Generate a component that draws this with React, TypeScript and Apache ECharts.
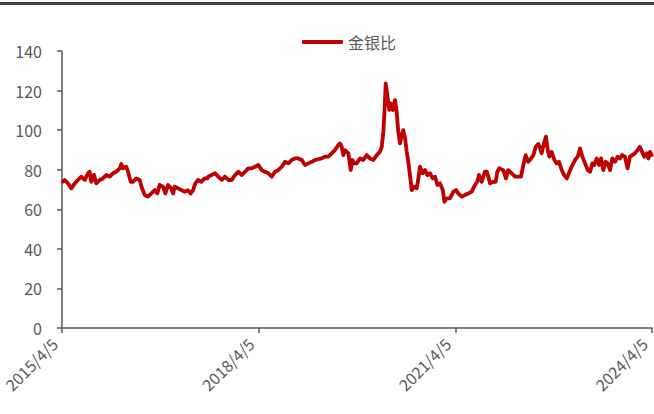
import React, { useEffect, useRef } from "react";
import * as echarts from "echarts";

const seriesName = "金银比";
const yTicks = [0, 20, 40, 60, 80, 100, 120, 140];
const xTickLabels = ["2015/4/5", "2018/4/5", "2021/4/5", "2024/4/5"];

const dates2015_2017 = [
  "2015-04-11", "2015-04-20", "2015-05-08", "2015-05-27", "2015-06-15", "2015-07-03", "2015-07-22", "2015-08-10",
  "2015-08-28", "2015-09-06", "2015-09-15", "2015-09-30", "2015-10-13", "2015-11-01", "2015-11-19", "2015-12-08",
  "2015-12-27", "2016-01-14", "2016-02-02", "2016-02-21", "2016-02-29", "2016-03-10", "2016-03-28", "2016-04-07",
  "2016-04-22", "2016-05-05", "2016-05-23", "2016-06-11", "2016-06-24", "2016-07-09", "2016-07-27", "2016-08-15",
  "2016-09-03", "2016-09-17", "2016-09-30", "2016-10-19", "2016-11-01", "2016-11-16", "2016-12-04", "2016-12-14",
  "2016-12-23", "2017-01-10", "2017-01-29", "2017-02-17", "2017-03-07", "2017-03-22", "2017-04-04", "2017-04-17",
  "2017-05-02", "2017-05-20", "2017-06-08", "2017-06-23",
];
const values2015_2017 = [
  74, 74.8, 73.1, 70.6, 73.1, 74.8, 76.5, 74.8,
  78.2, 79, 73.9, 77.4, 73.1, 74.8, 75.6, 77.3,
  76.5, 78.2, 79, 80.7, 82.9, 80.7, 81.5, 79,
  73.9, 73.9, 75.6, 74.8, 70.6, 67.2, 66.4, 68,
  69.7, 68, 72.3, 71.4, 68, 72.3, 70.6, 68,
  71.4, 70.6, 69.7, 68.9, 69.7, 68, 69.7, 73.1,
  74.8, 73.9, 75.6, 75.6,
];

const dates2017_2019 = [
  "2017-06-28", "2017-07-17", "2017-08-05", "2017-08-23", "2017-09-11", "2017-09-29", "2017-10-18", "2017-11-06",
  "2017-11-24", "2017-12-13", "2017-12-31", "2018-01-19", "2018-02-06", "2018-02-25", "2018-03-16", "2018-04-03",
  "2018-04-22", "2018-05-10", "2018-05-29", "2018-06-17", "2018-07-05", "2018-07-23", "2018-08-11", "2018-08-30",
  "2018-09-17", "2018-10-06", "2018-10-24", "2018-11-12", "2018-12-01", "2018-12-19", "2019-01-07", "2019-01-26",
  "2019-02-13", "2019-03-03", "2019-03-22", "2019-04-10", "2019-04-28", "2019-05-17", "2019-06-04", "2019-06-23",
  "2019-07-02", "2019-07-12", "2019-07-21", "2019-07-30", "2019-08-18", "2019-08-31", "2019-09-09", "2019-09-20",
];
const values2017_2019 = [
  76.5, 77.3, 78.2, 76.5, 74.8, 76.5, 74.8, 74.8,
  77.3, 79, 77.3, 79, 80.7, 80.7, 81.5, 82.4,
  79.8, 79, 78.2, 76.5, 79, 79.8, 81.5, 84,
  83.2, 84.9, 85.7, 85.7, 84.9, 82.4, 83.2, 84,
  84.9, 85.3, 85.7, 86.6, 86.6, 88.3, 89.9, 92.5,
  93.3, 91.6, 87.4, 89.9, 88.3, 79.8, 84.9, 83.2,
];

const dates2019_2021 = [
  "2019-10-03", "2019-10-22", "2019-11-09", "2019-11-28", "2019-12-16", "2020-01-04", "2020-01-23", "2020-02-10",
  "2020-02-20", "2020-02-29", "2020-03-07", "2020-03-13", "2020-03-22", "2020-04-02", "2020-04-10", "2020-04-21",
  "2020-05-04", "2020-05-13", "2020-05-22", "2020-06-01", "2020-06-10", "2020-06-19", "2020-06-29", "2020-07-08",
  "2020-07-17", "2020-07-26", "2020-08-05", "2020-08-18", "2020-09-02", "2020-09-11", "2020-09-20", "2020-10-05",
  "2020-10-18", "2020-10-31", "2020-11-15", "2020-11-30", "2020-12-13", "2020-12-26", "2021-01-10", "2021-01-25",
  "2021-02-03", "2021-02-16", "2021-03-06", "2021-03-25", "2021-04-09", "2021-04-21", "2021-05-11", "2021-05-29",
  "2021-06-16", "2021-07-05", "2021-07-24", "2021-08-05", "2021-08-15", "2021-08-30", "2021-09-17", "2021-09-27",
  "2021-10-06", "2021-10-15", "2021-11-03", "2021-11-16", "2021-11-25", "2021-12-06",
];
const values2019_2021 = [
  83.2, 85.7, 84.9, 87.4, 85.7, 84.9, 87.4, 89.1,
  91.6, 99.2, 111, 123.6, 117.7, 110.2, 113.5, 110.2,
  115.2, 109.3, 99.2, 93.3, 97.5, 100, 95.8, 89.1,
  84, 77.3, 69.7, 71.4, 70.6, 75.6, 81.5, 78.2,
  79.8, 77.3, 78.2, 75.6, 76.5, 72.3, 73.1, 69.7,
  63.8, 65.5, 65.5, 68.9, 69.7, 68, 66.4, 67.2,
  68, 68.9, 72.3, 73.9, 77.3, 73.9, 79, 79,
  76.5, 73.1, 73.9, 73.9, 79, 80.7,
];

const dates2021_2024 = [
  "2021-12-28", "2022-01-12", "2022-01-25", "2022-02-13", "2022-03-04", "2022-03-22", "2022-04-06", "2022-04-19",
  "2022-05-02", "2022-05-16", "2022-06-01", "2022-06-14", "2022-06-27", "2022-07-11", "2022-07-21", "2022-07-30",
  "2022-08-12", "2022-08-23", "2022-09-02", "2022-09-11", "2022-09-24", "2022-10-09", "2022-10-22", "2022-11-04",
  "2022-11-19", "2022-12-02", "2022-12-17", "2022-12-29", "2023-01-13", "2023-02-01", "2023-02-16", "2023-03-01",
  "2023-03-14", "2023-03-29", "2023-04-13", "2023-04-26", "2023-05-09", "2023-05-20", "2023-06-02", "2023-06-15",
  "2023-06-26", "2023-07-09", "2023-07-22", "2023-08-02", "2023-08-15", "2023-08-28", "2023-09-12", "2023-09-27",
  "2023-10-10", "2023-10-22", "2023-11-06", "2023-11-21", "2023-12-04", "2023-12-17", "2024-01-01", "2024-01-16",
  "2024-01-28", "2024-02-10", "2024-02-22", "2024-03-07", "2024-03-16", "2024-03-25", "2024-04-03",
];
const values2021_2024 = [
  79.8, 75.6, 79.8, 78.2, 76.5, 76.5, 76.5, 82.4,
  87.4, 84, 85.7, 87.4, 91.6, 93, 90.8, 88.3,
  93.3, 96.7, 90, 86.6, 89, 84.9, 83.2, 84,
  79.8, 77.3, 75.6, 78.2, 81.5, 84.9, 86.6, 90.8,
  86.6, 83.2, 79.8, 79, 83.2, 82.4, 85.7, 82.4,
  85.7, 79.8, 84, 83.2, 79.8, 85.7, 84, 86.6,
  85.7, 87.4, 86.6, 80.7, 86.6, 87.4, 88.3, 89.9,
  91.6, 89, 86.6, 88.3, 85.7, 89, 87.4,
];

const START = Date.UTC(2015, 3, 5);
const DAY = 86400000;
const dayOffset = (s: string) => {
  const [y, m, d] = s.split("-").map(Number);
  return Math.round((Date.UTC(y, m - 1, d) - START) / DAY);
};

const allDates = [...dates2015_2017, ...dates2017_2019, ...dates2019_2021, ...dates2021_2024];
const allValues = [...values2015_2017, ...values2017_2019, ...values2019_2021, ...values2021_2024];

export default function App() {
  const ref = useRef<HTMLDivElement>(null);
  useEffect(() => {
    if (!ref.current) return;
    const chart = echarts.init(ref.current, undefined, { renderer: "svg" });
    const data = allDates.map((d, i) => [dayOffset(d), allValues[i]]);
    const endDay = dayOffset("2024-04-05");
    const interval = endDay / (xTickLabels.length - 1);
    const font = "'Noto Sans CJK SC', 'Noto Sans', sans-serif";
    const axisColor = "#595959";
    chart.setOption({
      animation: false,
      backgroundColor: "#ffffff",
      textStyle: { fontFamily: font },
      graphic: [
        { type: "rect", left: 0, top: 2, shape: { width: 654, height: 3 }, style: { fill: "#404040" } },
      ],
      legend: {
        data: [seriesName],
        left: 297,
        top: 29,
        icon: "roundRect",
        itemWidth: 41,
        itemHeight: 4,
        textStyle: { color: "#595959", fontSize: 16, fontFamily: font },
      },
      grid: {
        left: 62,
        right: 2,
        top: 51,
        bottom: 86,
        containLabel: false,
        outerBoundsMode: "none",
      },
      xAxis: {
        type: "value",
        min: 0,
        max: endDay,
        interval,
        axisLine: { show: true, lineStyle: { color: axisColor, width: 1.5 } },
        axisTick: { show: true, length: 5, lineStyle: { color: axisColor, width: 1.5 } },
        splitLine: { show: false },
        axisLabel: {
          rotate: 45,
          color: "#595959",
          fontSize: 16,
          margin: 5,
          padding: [0, 11, 0, 0],
          fontFamily: font,
          formatter: (v: number) => {
            const idx = Math.round(v / interval);
            return xTickLabels[idx] ?? "";
          },
        },
      },
      yAxis: {
        type: "value",
        min: yTicks[0],
        max: yTicks[yTicks.length - 1],
        interval: yTicks[1] - yTicks[0],
        axisLine: { show: true, lineStyle: { color: axisColor, width: 1.5 } },
        axisTick: { show: true, length: 5, lineStyle: { color: axisColor, width: 1.5 } },
        splitLine: { show: false },
        axisLabel: { color: "#595959", fontSize: 16, margin: 20, fontFamily: font },
      },
      series: [
        {
          name: seriesName,
          type: "line",
          data,
          showSymbol: false,
          symbol: "none",
          lineStyle: { color: "#C00000", width: 3.8, join: "round", cap: "round" },
          itemStyle: { color: "#C00000" },
        },
      ],
    });
    return () => chart.dispose();
  }, []);
  return (
    <div
      ref={ref}
      style={{ position: "fixed", left: 0, top: 0, width: 654, height: 414, background: "#fff" }}
    />
  );
}
